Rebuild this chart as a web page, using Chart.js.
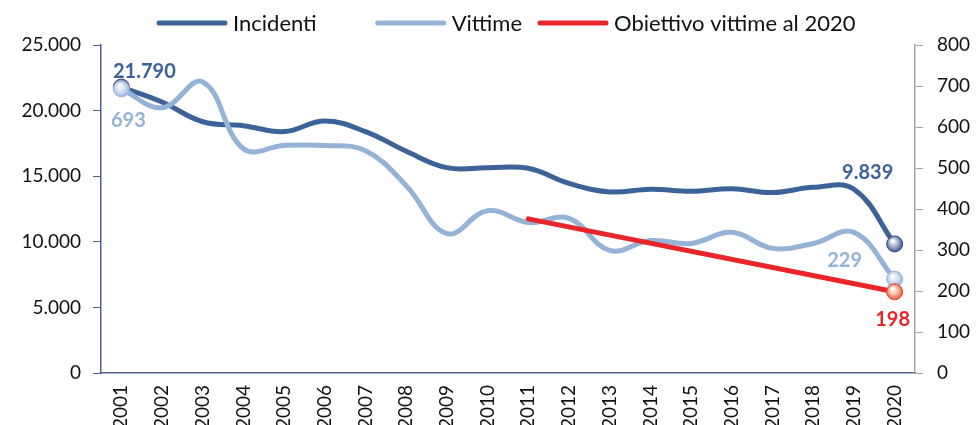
<!DOCTYPE html>
<html>
<head>
<meta charset="utf-8">
<script src="https://cdn.jsdelivr.net/npm/chart.js@4.4.1/dist/chart.umd.min.js"></script>
<style>
  html, body { margin: 0; padding: 0; background: #ffffff; }
  #wrap { width: 976px; height: 425px; }
</style>
</head>
<body>
<div id="wrap"><canvas id="roadChart" width="976" height="425"></canvas></div>
<script>
// Anni e serie
const years = [
    '2001', '2002', '2003', '2004', '2005', '2006', '2007', '2008', '2009', '2010',
    '2011', '2012', '2013', '2014', '2015', '2016', '2017', '2018', '2019', '2020'
];
const incidenti = [
    21790, 20650, 19150, 18850, 18400, 19200, 18400, 16900, 15650, 15650,
    15600, 14450, 13800, 14000, 13850, 14050, 13750, 14150, 14000, 9839
];
const vittime = [
    693, 647, 710, 547, 555, 555, 542, 457, 340, 396,
    367, 377, 299, 323, 316, 343, 304, 316, 343, 229
];
const obiettivo = [
    null, null, null, null, null, null, null, null, null, null,
    376, null, null, null, null, null, null, null, null, 198
];
const leftTicks = [0, 5000, 10000, 15000, 20000, 25000];
const rightTicks = [0, 100, 200, 300, 400, 500, 600, 700, 800];

const DARK = '#3C6397';
const LIGHT = '#95B3D7';
const RED = '#E8262A';

function fmt(v) {
    return String(v).replace(/\B(?=(\d{3})+(?!\d))/g, '.');
}

// sfera con riflesso per i marcatori finali
function sphere(base, mid) {
    return function(c) {
        const chart = c.chart;
        if (c.type !== 'data' || !chart.chartArea || !c.parsed) return base;
        const ds = chart.data.datasets[c.datasetIndex];
        const x = chart.scales.x.getPixelForValue(c.dataIndex);
        const y = chart.scales[ds.yAxisID].getPixelForValue(c.parsed.y);
        if (!isFinite(x) || !isFinite(y) || c.parsed.y === null) return base;
        const g = chart.ctx.createRadialGradient(x - 2, y - 3, 1, x, y, 9);
        g.addColorStop(0, '#ffffff');
        g.addColorStop(0.55, mid);
        g.addColorStop(1, base);
        return g;
    };
}

function endPoints(arr, r) {
    return arr.map((v, i) => (i === 0 || i === arr.length - 1) && v !== null ? r : 0);
}

// etichette dei valori
const valueLabels = [
    { ds: 0, i: 0, dx: 23, dy: -16, color: DARK },
    { ds: 1, i: 0, dx: 7, dy: 32, color: LIGHT },
    { ds: 0, i: 19, dx: -27, dy: -71, color: DARK },
    { ds: 1, i: 19, dx: -50, dy: -19, color: LIGHT },
    { ds: 2, i: 19, dx: -2, dy: 28, color: RED }
];

const labelPlugin = {
    id: 'valueLabels',
    afterDatasetsDraw(chart) {
        const ctx = chart.ctx;
        ctx.save();
        ctx.font = 'bold 20px Lato';
        ctx.textAlign = 'center';
        ctx.textBaseline = 'middle';
        valueLabels.forEach(l => {
            const pt = chart.getDatasetMeta(l.ds).data[l.i];
            const v = chart.data.datasets[l.ds].data[l.i];
            ctx.fillStyle = l.color;
            ctx.fillText(fmt(v), pt.x + l.dx, pt.y + l.dy);
        });
        ctx.restore();
    }
};

// legenda con linee a capi arrotondati
const legendPlugin = {
    id: 'lineLegend',
    afterDraw(chart) {
        const ctx = chart.ctx;
        const sets = chart.data.datasets;
        const lineW = 70, textGap = 6, gaps = [59, 16];
        ctx.save();
        ctx.font = '22px Lato';
        ctx.textBaseline = 'middle';
        let x = 157;
        const y = 23;
        sets.forEach((d, k) => {
            ctx.strokeStyle = d.borderColor;
            ctx.lineWidth = 5;
            ctx.lineCap = 'round';
            ctx.beginPath();
            ctx.moveTo(x + 2, y);
            ctx.lineTo(x + lineW - 2, y);
            ctx.stroke();
            x += lineW + textGap;
            ctx.fillStyle = '#111111';
            ctx.fillText(d.label, x, y + 1);
            x += ctx.measureText(d.label).width + (gaps[k] || 0);
        });
        ctx.restore();
    }
};

const ctx = document.getElementById('roadChart').getContext('2d');
const roadChart = new Chart(ctx, {
    type: 'line',
    data: {
        labels: years,
        datasets: [{
            label: 'Incidenti',
            data: incidenti,
            yAxisID: 'y',
            borderColor: DARK,
            backgroundColor: DARK,
            borderWidth: 5,
            tension: 0.4,
            order: 3,
            pointRadius: endPoints(incidenti, 8),
            pointBackgroundColor: sphere('#34457E', '#8E9CC4'),
            pointBorderColor: '#3A4A80',
            pointBorderWidth: 1
        }, {
            label: 'Vittime',
            data: vittime,
            yAxisID: 'y1',
            borderColor: LIGHT,
            backgroundColor: LIGHT,
            borderWidth: 5,
            tension: 0.4,
            order: 2,
            pointRadius: endPoints(vittime, 8),
            pointBackgroundColor: sphere('#8FAAD6', '#C9D8EE'),
            pointBorderColor: '#9BB4DA',
            pointBorderWidth: 1
        }, {
            label: 'Obiettivo vittime al 2020',
            data: obiettivo,
            yAxisID: 'y1',
            borderColor: RED,
            backgroundColor: RED,
            borderWidth: 5,
            borderCapStyle: 'round',
            spanGaps: true,
            tension: 0,
            order: 1,
            pointRadius: obiettivo.map((v, i) => i === obiettivo.length - 1 ? 8 : 0),
            pointBackgroundColor: sphere('#E8402E', '#F7A58E'),
            pointBorderColor: '#E8462F',
            pointBorderWidth: 1
        }]
    },
    options: {
        responsive: false,
        animation: false,
        layout: { padding: { top: 45, left: 0, right: 0, bottom: 0 } },
        plugins: {
            legend: { display: false },
            tooltip: { enabled: false }
        },
        scales: {
            x: {
                offset: true,
                afterFit: s => { s.height = 52; },
                ticks: {
                    color: '#111111',
                    font: { family: 'Lato', size: 19 },
                    maxRotation: 90,
                    minRotation: 90,
                    padding: 4
                },
                grid: { display: false },
                border: { display: true, color: '#5A6590', width: 1.5 }
            },
            y: {
                position: 'left',
                min: 0,
                max: 25000,
                afterFit: s => { s.width = 101; },
                afterBuildTicks: s => { s.ticks = leftTicks.map(v => ({ value: v })); },
                ticks: {
                    color: '#111111',
                    font: { family: 'Lato', size: 19 },
                    padding: 12,
                    callback: v => fmt(v)
                },
                grid: { drawOnChartArea: false, drawTicks: true, tickLength: 8, color: '#4E5D92' },
                border: { display: true, color: '#4E5D92', width: 1.5 }
            },
            y1: {
                position: 'right',
                min: 0,
                max: 800,
                afterFit: s => { s.width = 61; },
                afterBuildTicks: s => { s.ticks = rightTicks.map(v => ({ value: v })); },
                ticks: {
                    color: '#111111',
                    font: { family: 'Lato', size: 19 },
                    padding: 14
                },
                grid: { drawOnChartArea: false, drawTicks: true, tickLength: 8, color: '#A6A6A6' },
                border: { display: true, color: '#A6A6A6', width: 1.5 }
            }
        }
    },
    plugins: [labelPlugin, legendPlugin]
});
</script>
</body>
</html>
